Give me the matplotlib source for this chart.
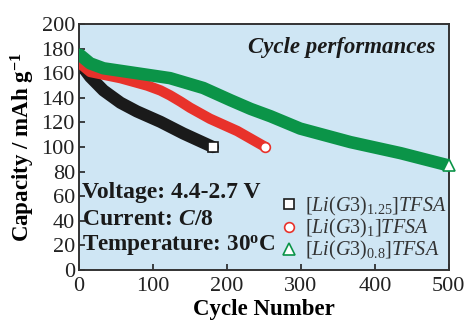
import matplotlib.pyplot as plt

# capacity (mAh/g) at selected cycles
black_cycles = [1, 5, 15, 33, 56, 78, 110, 141, 181]
black_cap = [171, 165, 157, 146, 136, 129, 120.5, 111, 100]

red_cycles = [1, 15, 56, 92, 110, 123, 137, 150, 177, 214, 252]
red_cap = [168, 161, 156, 150, 146, 142, 137, 132, 123, 113, 100]

green_cycles = [1, 15, 33, 78, 123, 168, 205, 232, 259, 299, 367, 435, 500]
green_cap = [175, 168, 164, 160, 156, 148, 138, 131, 125, 115, 104, 95, 85]

labels = [r'$\mathit{[Li(G3)}_{\mathit{1.25}}\mathit{]TFSA}$',
          r'$\mathit{[Li(G3)}_{\mathit{1}}\mathit{]TFSA}$',
          r'$\mathit{[Li(G3)}_{\mathit{0.8}}\mathit{]TFSA}$']

plt.rcParams['font.family'] = ['Liberation Serif', 'DejaVu Serif']
plt.rcParams['mathtext.fontset'] = 'custom'
plt.rcParams['mathtext.rm'] = 'Liberation Serif'
plt.rcParams['mathtext.it'] = 'Liberation Serif:italic'
plt.rcParams['mathtext.bf'] = 'Liberation Serif:bold'
plt.rcParams['mathtext.bfit'] = 'Liberation Serif:bold:italic'

BLACK = '#1a1a1a'
RED = '#e8322b'
GREEN = '#0b9448'

fig = plt.figure(figsize=(4.68, 3.2), dpi=100)
ax = fig.add_axes([0.169, 0.156, 0.790, 0.769])
ax.set_facecolor('#cfe6f4')

# thick bands (the original is drawn as densely packed markers)
ax.plot(black_cycles, black_cap, color=BLACK, lw=8.8, solid_capstyle='round', solid_joinstyle='round', zorder=2)
ax.plot(red_cycles, red_cap, color=RED, lw=7.5, solid_capstyle='round', solid_joinstyle='round', zorder=3)
ax.plot(green_cycles, green_cap, color=GREEN, lw=9, solid_capstyle='round', solid_joinstyle='round', zorder=4)

# open end markers, also used as legend handles
h1, = ax.plot(black_cycles[-1], black_cap[-1], 's', ms=7, mfc='white', mec=BLACK, mew=1.2, zorder=5,
              clip_on=False, label=labels[0])
h2, = ax.plot(red_cycles[-1], red_cap[-1], 'o', ms=7, mfc='white', mec=RED, mew=1.2, zorder=5,
              clip_on=False, label=labels[1])
h3, = ax.plot(green_cycles[-1], green_cap[-1], '^', ms=8, mfc='white', mec=GREEN, mew=1.2, zorder=5,
              clip_on=False, label=labels[2])

ax.set_xlim(0, 500)
ax.set_ylim(0, 200)
ax.set_xticks([0, 100, 200, 300, 400, 500])
ax.set_yticks(range(0, 201, 20))
ax.tick_params(direction='in', length=4, width=1.2, labelsize=16, colors='#222222')
ax.tick_params(axis='x', pad=5)
ax.tick_params(axis='y', pad=3)
for s in ax.spines.values():
    s.set_linewidth(1.4)
    s.set_color('#333333')

ax.set_xlabel('Cycle Number', fontsize=16.5, fontweight='bold', labelpad=2)
ax.set_ylabel(r'Capacity / mAh g$^{\mathbf{-1}}$', fontsize=16.5, fontweight='bold', labelpad=3)

ax.text(482, 181, 'Cycle performances', fontsize=16.5, fontweight='bold', style='italic',
        ha='right', va='center', color='#1a1a1a')
ax.text(4, 63, 'Voltage: 4.4-2.7 V', fontsize=17, fontweight='bold', ha='left', va='center', color='#1a1a1a')
ax.text(4, 41.5, r'Current: $\mathbfit{C}$/8', fontsize=17, fontweight='bold', ha='left', va='center', color='#1a1a1a')
ax.text(4, 20, r'Temperature: 30$^{\mathbf{o}}$C', fontsize=16.7, fontweight='bold', ha='left', va='center', color='#1a1a1a')

leg = ax.legend(handles=[h1, h2, h3], loc='upper left', bbox_to_anchor=(0.545, 0.305),
                frameon=False, fontsize=14.5, handlelength=0.8, handletextpad=0.4,
                labelspacing=-0.05, borderpad=0, borderaxespad=0)
for t in leg.get_texts():
    t.set_color('#333333')

fig.savefig('out.png', dpi=100)
